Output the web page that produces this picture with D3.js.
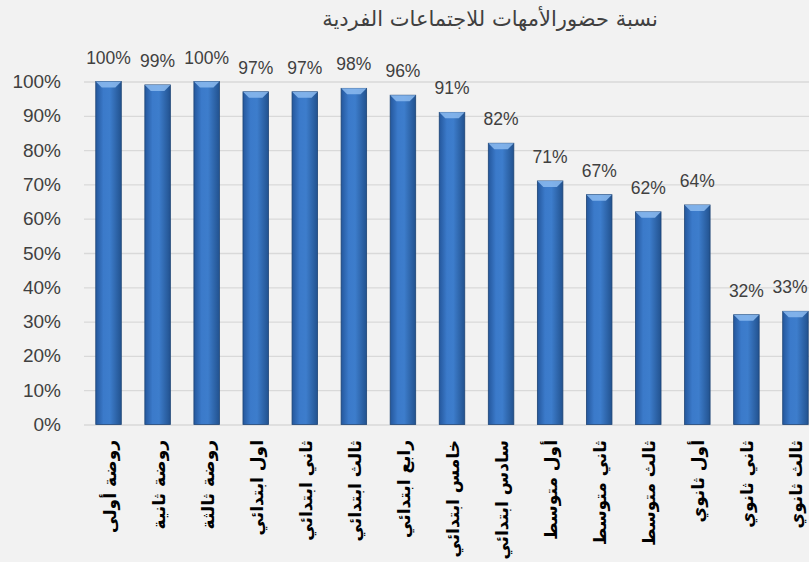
<!DOCTYPE html>
<html lang="ar">
<head>
  <meta charset="UTF-8">
  <title>نسبة حضورالأمهات للاجتماعات الفردية</title>
  <script src="https://d3js.org/d3.v7.min.js"></script>
  <style>
    body { margin: 0; background: #f2f2f2; font-family: "Liberation Sans", Arial, sans-serif; }
    svg { display: block; }
    .grid line { stroke: #d9d9d9; stroke-width: 1.3; }
    .grid path { display: none; }
    .yaxis path, .yaxis line { display: none; }
    .yaxis text { font-size: 19px; fill: #404040; font-family: "Liberation Sans", Arial, sans-serif; }
    .xlab { font-family: "DejaVu Sans", sans-serif; font-size: 17px; fill: #000; font-weight: bold; }
    .val { font-size: 17.5px; fill: #404040; }
  </style>
</head>
<body>
  <div id="chart"></div>
  <script>
    // Chart data
    const categories = ["روضة أولى", "روضة ثانية", "روضة ثالثة", "اول ابتدائي", "ثاني ابتدائي",
      "ثالث ابتدائي", "رابع ابتدائي", "خامس ابتدائي", "سادس ابتدائي", "أول متوسط",
      "ثاني متوسط", "ثالث متوسط", "أول ثانوي", "ثاني ثانوي", "ثالث ثانوي"];
    const values = [100, 99, 100, 97, 97, 98, 96, 91, 82, 71, 67, 62, 64, 32, 33];
    const yTicks = [0, 10, 20, 30, 40, 50, 60, 70, 80, 90, 100];
    const title = "نسبة حضورالأمهات للاجتماعات الفردية";

    const width = 809, height = 562;
    const plot = { left: 84, right: 820, top: 81.5, bottom: 424.5 };

    const svg = d3.select("#chart").append("svg")
      .attr("width", width).attr("height", height);

    const x = d3.scaleBand().domain(categories)
      .range([plot.left, plot.right]).paddingInner(0.48).paddingOuter(0.24);
    const y = d3.scaleLinear().domain([0, 100]).range([plot.bottom, plot.top]);

    // gradient for bars
    const defs = svg.append("defs");
    const g = defs.append("linearGradient").attr("id", "barGrad")
      .attr("x1", "0").attr("x2", "1").attr("y1", "0").attr("y2", "0");
    g.append("stop").attr("offset", "0%").attr("stop-color", "#24579c");
    g.append("stop").attr("offset", "30%").attr("stop-color", "#3b7aca");
    g.append("stop").attr("offset", "55%").attr("stop-color", "#3d7dcc");
    g.append("stop").attr("offset", "100%").attr("stop-color", "#22528f");

    // title
    svg.append("text")
      .attr("x", 490).attr("y", 26)
      .attr("text-anchor", "middle")
      .style("font-family", "'DejaVu Sans', sans-serif")
      .style("font-size", "21px")
      .style("fill", "#404040")
      .text(title);

    // gridlines
    svg.append("g").attr("class", "grid")
      .attr("transform", `translate(${plot.left},0)`)
      .call(d3.axisRight(y).tickValues(yTicks).tickSize(width).tickFormat(""));

    // y axis labels
    svg.append("g").attr("class", "yaxis")
      .attr("transform", "translate(69,0)")
      .call(d3.axisLeft(y).tickValues(yTicks).tickSize(0).tickPadding(8).tickFormat(d => d + "%"));

    // bars
    const bars = svg.append("g").selectAll("g").data(categories).join("g");
    bars.append("rect")
      .attr("x", d => x(d))
      .attr("y", (d, i) => y(values[i]))
      .attr("width", x.bandwidth())
      .attr("height", (d, i) => plot.bottom - y(values[i]))
      .attr("fill", "url(#barGrad)")
      .attr("stroke", "#1d4475")
      .attr("stroke-width", 0.8);

    // top bevel
    bars.append("path")
      .attr("d", (d, i) => {
        const x0 = x(d), x1 = x0 + x.bandwidth(), t = y(values[i]), h = 6;
        return `M${x0},${t} L${x1},${t} L${x1 - 6},${t + h} L${x0 + 6},${t + h} Z`;
      })
      .attr("fill", "#8cbbf0")
      .attr("opacity", 0.85);

    // value labels (kept inside the right edge)
    svg.append("g").selectAll("text").data(categories).join("text")
      .attr("class", "val")
      .attr("x", d => Math.min(x(d) + x.bandwidth() / 2, width - 19))
      .attr("y", (d, i) => y(values[i]) - 18)
      .attr("text-anchor", "middle")
      .text((d, i) => values[i] + "%");

    // x labels, rotated
    svg.append("g").selectAll("text").data(categories).join("text")
      .attr("class", "xlab")
      .attr("transform", d => `translate(${x(d) + x.bandwidth() / 2 + 7},440) rotate(-90)`)
      .attr("text-anchor", "end")
      .text(d => d);
  </script>
</body>
</html>
